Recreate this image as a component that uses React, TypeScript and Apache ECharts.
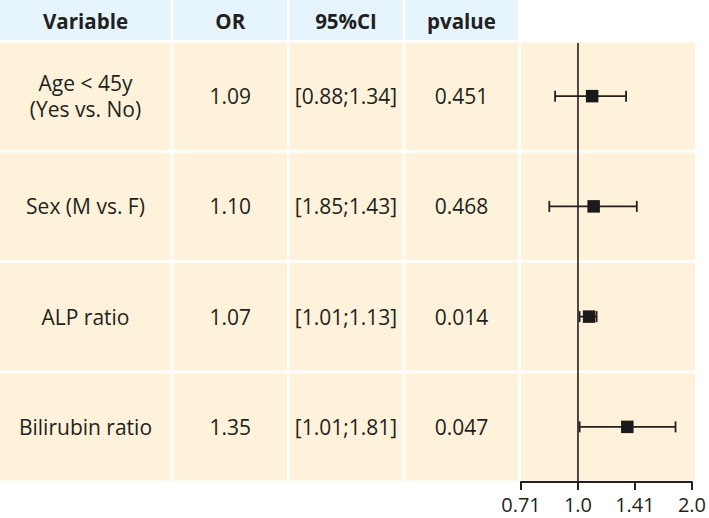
import React, { useEffect, useRef } from "react";
import * as echarts from "echarts";

// ---- data ----
const headers = ["Variable", "OR", "95%CI", "pvalue"];
const variables = ["Age < 45y\n(Yes vs. No)", "Sex (M vs. F)", "ALP ratio", "Bilirubin ratio"];
const orText = ["1.09", "1.10", "1.07", "1.35"];
const ciText = ["[0.88;1.34]", "[1.85;1.43]", "[1.01;1.13]", "[1.01;1.81]"];
const pText = ["0.451", "0.468", "0.014", "0.047"];
const orValues = [1.09, 1.1, 1.07, 1.35];
const ciLow = [0.87, 0.84, 1.01, 1.01];
const ciHigh = [1.34, 1.43, 1.12, 1.81];
const axisTickLabels = ["0.71", "1.0", "1.41", "2.0"];
const refValue = 1.0;

// ---- layout / style ----
const FONT = "'Open Sans', 'Noto Sans', sans-serif";
const TEXT = "#231f20";
const HEADER_BG = "#e5f4fd";
const CELL_BG = "#fef2da";
const COLS: [number, number][] = [
  [0, 171],
  [173.5, 287],
  [289.5, 402.5],
  [405, 518],
  [521, 695],
];

export default function App() {
  const ref = useRef<HTMLDivElement>(null);
  useEffect(() => {
    if (!ref.current) return;
    const chart = echarts.init(ref.current, undefined, { renderer: "svg" });
    const tableCols = [variables, orText, ciText, pText];

    const headerData = headers.map((_, i) => [i, 0]);
    const bodyData: number[][] = [];
    variables.forEach((_, r) => {
      for (let c = 0; c < COLS.length; c++) bodyData.push([c, r]);
    });
    const forestData = orValues.map((v, r) => [
      Math.log2(ciLow[r]),
      Math.log2(ciHigh[r]),
      Math.log2(v),
      r,
    ]);

    const option: any = {
      animation: false,
      grid: [
        { left: 0, top: 0, width: 695, height: 40 },
        { left: 0, top: 41, width: 695, height: 441 },
        { left: 521, top: 41, width: 174, height: 441 },
      ],
      xAxis: [
        { type: "value", gridIndex: 0, min: 0, max: 695, show: false },
        { type: "value", gridIndex: 1, min: 0, max: 695, show: false },
        {
          type: "value",
          gridIndex: 2,
          min: -0.5,
          max: 1,
          interval: 0.5,
          position: "bottom",
          axisLine: { show: true, onZero: false, lineStyle: { color: TEXT, width: 2 } },
          axisTick: { show: true, length: 8, lineStyle: { color: TEXT, width: 2 } },
          splitLine: { show: false },
          axisLabel: {
            margin: 12,
            fontSize: 20,
            fontFamily: FONT,
            color: TEXT,
            formatter: (_v: number, idx: number) => axisTickLabels[idx],
          },
        },
      ],
      yAxis: [
        { type: "category", gridIndex: 0, data: ["header"], show: false },
        { type: "category", gridIndex: 1, data: variables, inverse: true, show: false },
        { type: "category", gridIndex: 2, data: variables, inverse: true, show: false },
      ],
      series: [
        {
          type: "custom",
          xAxisIndex: 0,
          yAxisIndex: 0,
          data: headerData,
          renderItem: (params: any, api: any) => {
            const c = api.value(0);
            const [x0, cy] = api.coord([COLS[c][0], 0]);
            const [x1] = api.coord([COLS[c][1], 0]);
            const h = api.size([0, 1])[1];
            return {
              type: "group",
              children: [
                { type: "rect", shape: { x: x0, y: cy - h / 2, width: x1 - x0, height: h }, style: { fill: HEADER_BG } },
                {
                  type: "text",
                  x: (x0 + x1) / 2,
                  y: cy + 1,
                  style: {
                    text: headers[c],
                    fontSize: 20.5,
                    fontWeight: "bold",
                    fontFamily: FONT,
                    fill: TEXT,
                    align: "center",
                    verticalAlign: "middle",
                    textAlign: "center",
                    textVerticalAlign: "middle",
                  },
                },
              ],
            };
          },
        },
        {
          type: "custom",
          xAxisIndex: 1,
          yAxisIndex: 1,
          data: bodyData,
          renderItem: (params: any, api: any) => {
            const c = api.value(0);
            const r = api.value(1);
            const [x0, cy] = api.coord([COLS[c][0], r]);
            const [x1] = api.coord([COLS[c][1], r]);
            const h = api.size([0, 1])[1];
            const children: any[] = [
              { type: "rect", shape: { x: x0, y: cy - h / 2 + 1.5, width: x1 - x0, height: h - 3 }, style: { fill: CELL_BG } },
            ];
            if (c < tableCols.length) {
              children.push({
                type: "text",
                x: (x0 + x1) / 2,
                y: cy,
                style: {
                  text: tableCols[c][r],
                  fontSize: 21,
                  lineHeight: 26,
                  fontFamily: FONT,
                  fill: TEXT,
                  align: "center",
                  verticalAlign: "middle",
                  textAlign: "center",
                  textVerticalAlign: "middle",
                },
              });
            }
            return { type: "group", children };
          },
        },
        {
          type: "custom",
          xAxisIndex: 2,
          yAxisIndex: 2,
          data: [[Math.log2(refValue)]],
          renderItem: (params: any, api: any) => {
            const cs = params.coordSys;
            const [x] = api.coord([api.value(0), 0]);
            return {
              type: "line",
              shape: { x1: x, y1: cs.y + 2, x2: x, y2: cs.y + cs.height },
              style: { stroke: TEXT, lineWidth: 1.6 },
            };
          },
        },
        {
          type: "custom",
          xAxisIndex: 2,
          yAxisIndex: 2,
          data: forestData,
          encode: { x: [0, 1, 2], y: 3 },
          renderItem: (params: any, api: any) => {
            const r = api.value(3);
            const [xl, cy] = api.coord([api.value(0), r]);
            const [xh] = api.coord([api.value(1), r]);
            const [xm] = api.coord([api.value(2), r]);
            const cap = 5.5;
            const sq = 12.5;
            const st = { stroke: TEXT, lineWidth: 1.8 };
            return {
              type: "group",
              children: [
                { type: "line", shape: { x1: xl, y1: cy, x2: xh, y2: cy }, style: st },
                { type: "line", shape: { x1: xl, y1: cy - cap, x2: xl, y2: cy + cap }, style: st },
                { type: "line", shape: { x1: xh, y1: cy - cap, x2: xh, y2: cy + cap }, style: st },
                { type: "rect", shape: { x: xm - sq / 2, y: cy - sq / 2, width: sq, height: sq }, style: { fill: "#1a1a1a" } },
              ],
            };
          },
        },
      ],
    };
    chart.setOption(option);
    return () => chart.dispose();
  }, []);
  return (
    <div
      ref={ref}
      style={{ position: "fixed", left: 0, top: 0, width: 709, height: 518, background: "#ffffff" }}
    />
  );
}
